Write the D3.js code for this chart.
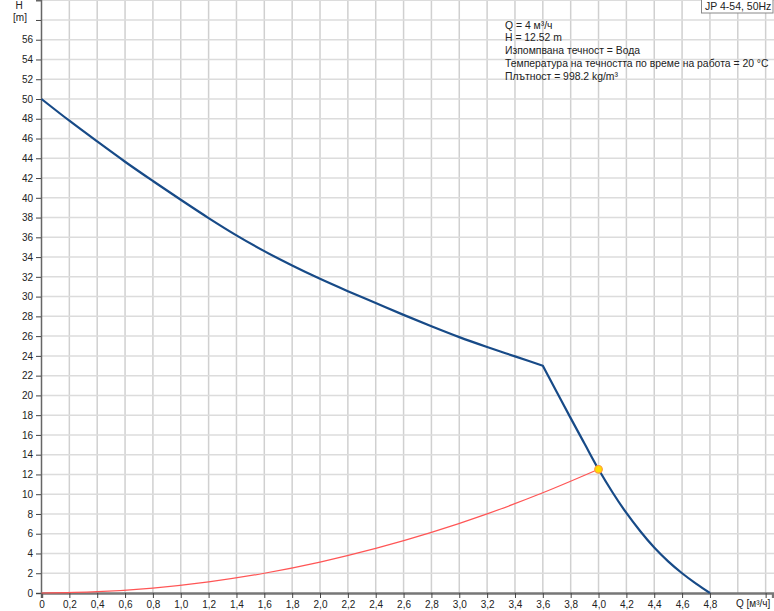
<!DOCTYPE html>
<html><head><meta charset="utf-8">
<script src="https://cdn.jsdelivr.net/npm/d3@7/dist/d3.min.js"></script>
<style>
html,body{margin:0;padding:0;background:#fff;}
svg{display:block;font-family:"Liberation Sans",Arial,sans-serif;}
</style></head>
<body>
<svg id="c" width="774" height="611"></svg>
<script>
// ---- data ----
const pumpQ = [0, 0.2, 0.4, 0.6, 0.8, 1.0, 1.2, 1.4, 1.6, 1.8, 2.0, 2.2, 2.4, 2.6, 2.8, 3.0, 3.2, 3.4, 3.6, 3.7, 3.8, 3.9, 4.0, 4.1, 4.2, 4.3, 4.4, 4.5, 4.6, 4.7, 4.8];
const pumpH = [50.0, 47.8, 45.7, 43.65, 41.7, 39.8, 37.95, 36.2, 34.6, 33.15, 31.8, 30.55, 29.35, 28.15, 27.0, 25.9, 24.9, 23.95, 23.0, 20.35, 17.7, 15.1, 12.52, 10.2, 8.1, 6.25, 4.6, 3.2, 2.0, 0.95, 0.0];
const sysQ = [0, 0.4, 0.8, 1.2, 1.6, 2.0, 2.4, 2.8, 3.2, 3.6, 4.0];
const sysH = [0, 0.13, 0.5, 1.13, 2.0, 3.13, 4.51, 6.13, 8.01, 10.14, 12.52];
const opQ = 4.0, opH = 12.52;
const xTicks = [0, 0.2, 0.4, 0.6, 0.8, 1.0, 1.2, 1.4, 1.6, 1.8, 2.0, 2.2, 2.4, 2.6, 2.8, 3.0, 3.2, 3.4, 3.6, 3.8, 4.0, 4.2, 4.4, 4.6, 4.8];
const xGrid = [0.2, 0.4, 0.6, 0.8, 1.0, 1.2, 1.4, 1.6, 1.8, 2.0, 2.2, 2.4, 2.6, 2.8, 3.0, 3.2, 3.4, 3.6, 3.8, 4.0, 4.2, 4.4, 4.6, 4.8, 5.0, 5.2];
const yTicks = [0, 2, 4, 6, 8, 10, 12, 14, 16, 18, 20, 22, 24, 26, 28, 30, 32, 34, 36, 38, 40, 42, 44, 46, 48, 50, 52, 54, 56];
const yGrid = [2, 4, 6, 8, 10, 12, 14, 16, 18, 20, 22, 24, 26, 28, 30, 32, 34, 36, 38, 40, 42, 44, 46, 48, 50, 52, 54, 56, 58, 60];
const infoLines = ["Q = 4 м³/ч", "H = 12.52 m", "Изпомпвана течност = Вода", "Температура на течността по време на работа = 20 °C", "Плътност = 998.2 kg/m³"];
const title = "JP 4-54, 50Hz";
const xLabel = "Q [м³/ч]";
const yLabel1 = "H", yLabel2 = "[m]";

// ---- layout ----
const svg = d3.select("#c");
const x = d3.scaleLinear().domain([0, 5.25]).range([41.5, 772.6]);
const y = d3.scaleLinear().domain([0, 60]).range([593, 0.2]);
const fmt = v => d3.format(".1f")(v).replace(".", ",");

// grid
svg.append("g").selectAll("line").data(xGrid).join("line")
  .attr("x1", d => x(d)).attr("x2", d => x(d)).attr("y1", 0).attr("y2", 593)
  .attr("stroke", "#d0d0d0").attr("stroke-width", 1.5);
svg.append("g").selectAll("line").data(yGrid).join("line")
  .attr("x1", 41).attr("x2", 774).attr("y1", d => y(d)).attr("y2", d => y(d))
  .attr("stroke", "#dcdcdc").attr("stroke-width", 1.5);

// axes
const yAxis = d3.axisLeft(y).tickValues(yTicks.concat([58])).tickSize(5).tickPadding(3)
  .tickFormat(d => d === 58 ? "" : d);
const gy = svg.append("g").attr("transform", "translate(41,0)").call(yAxis);
gy.select(".domain").attr("stroke", "#666").attr("stroke-width", 1.5);
gy.selectAll(".tick line").attr("stroke", "#444");
gy.selectAll(".tick text").attr("font-size", 10).attr("fill", "#222")
  .attr("font-family", "Liberation Sans, Arial, sans-serif");

const xAxis = d3.axisBottom(x).tickValues(xTicks.concat([5.2])).tickSize(5).tickPadding(3)
  .tickFormat(d => d > 5 ? "" : (d === 0 ? "0" : fmt(d)));
const gx = svg.append("g").attr("transform", "translate(0,593)").call(xAxis);
gx.select(".domain").attr("stroke", "#777").attr("stroke-width", 2.5);
gx.selectAll(".tick line").attr("stroke", "#444");
gx.selectAll(".tick text").attr("font-size", 10).attr("fill", "#222")
  .attr("font-family", "Liberation Sans, Arial, sans-serif");

// axis labels
svg.append("text").attr("x", 19).attr("y", 9).attr("text-anchor", "middle")
  .attr("font-size", 10).attr("fill", "#222").text(yLabel1);
svg.append("text").attr("x", 20).attr("y", 21).attr("text-anchor", "middle")
  .attr("font-size", 10).attr("fill", "#222").text(yLabel2);
svg.append("text").attr("x", 736).attr("y", 607)
  .attr("font-size", 10).attr("fill", "#222").text(xLabel);

// system curve
const line = d3.line().x(d => x(d[0])).y(d => y(d[1])).curve(d3.curveMonotoneX);
svg.append("path").datum(sysQ.map((q, i) => [q, sysH[i]]))
  .attr("d", line).attr("fill", "none").attr("stroke", "#ff5555").attr("stroke-width", 1.2);

// pump curve (kink at 3.6 -> two pieces)
const kink = pumpQ.indexOf(3.6);
const pts = pumpQ.map((q, i) => [q, pumpH[i]]);
const pumpPath = line(pts.slice(0, kink + 1)) + line(pts.slice(kink)).replace(/^M/, "L");
svg.append("path").attr("d", pumpPath).attr("fill", "none")
  .attr("stroke", "#174a87").attr("stroke-width", 2.2).attr("stroke-linejoin", "round");

// operating point
svg.append("circle").attr("cx", x(opQ)).attr("cy", y(opH)).attr("r", 3.8)
  .attr("fill", "#ffdd00").attr("stroke", "#ff9a3a").attr("stroke-width", 1.2);

// info text
svg.append("g").selectAll("text").data(infoLines).join("text")
  .attr("x", 505).attr("y", (d, i) => 28.5 + i * 12.9)
  .attr("font-size", 10.4).attr("fill", "#222").text(d => d);

// title box
const tg = svg.append("g");
tg.append("rect").attr("x", 701.5).attr("y", -0.5).attr("width", 71.5).attr("height", 13.5)
  .attr("fill", "#fff").attr("stroke", "#888").attr("stroke-width", 1);
tg.append("text").attr("x", 705).attr("y", 10).attr("font-size", 10.5).attr("fill", "#222").text(title);
</script>
</body></html>
